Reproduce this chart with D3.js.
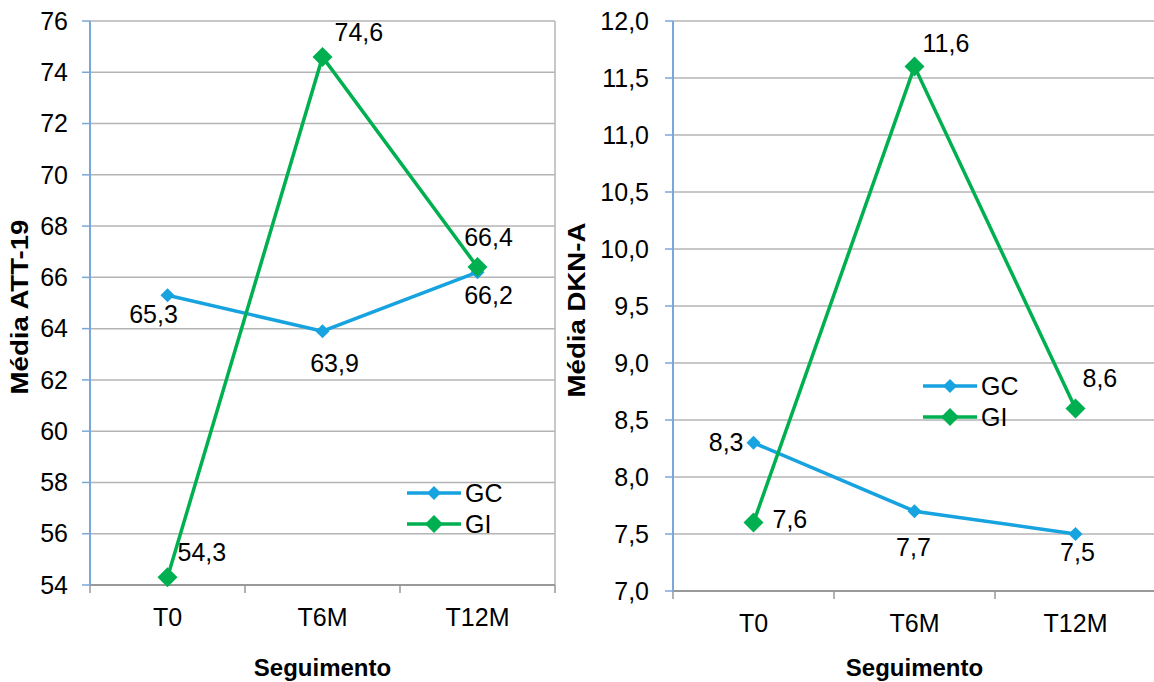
<!DOCTYPE html>
<html lang="pt">
<head>
<meta charset="UTF-8" />
<title>Média ATT-19 e DKN-A por seguimento</title>
<script src="https://d3js.org/d3.v7.min.js"></script>
<style>
  body { margin: 0; background: #fff; }
  svg text { font-family: "Liberation Sans", Arial, sans-serif; fill: #000; }
  .grid line { stroke: #b4b4b4; stroke-width: 1.5px; }
  .tick-lbl { font-size: 25px; }
  .title { font-size: 24px; font-weight: bold; }
  .dlabel { font-size: 25px; }
</style>
</head>
<body>
<svg width="1154" height="682"></svg>
<script>
// categorias e séries
const categories = ["T0", "T6M", "T12M"];
const seriesNames = ["GC", "GI"];

// gráfico 1: ATT-19
const attGC = [65.3, 63.9, 66.2];
const attGI = [54.3, 74.6, 66.4];
const attTicks = [54, 56, 58, 60, 62, 64, 66, 68, 70, 72, 74, 76];

// gráfico 2: DKN-A
const dknGC = [8.3, 7.7, 7.5];
const dknGI = [7.6, 11.6, 8.6];
const dknTicks = [7.0, 7.5, 8.0, 8.5, 9.0, 9.5, 10.0, 10.5, 11.0, 11.5, 12.0];

const colors = { GC: "#17a2e0", GI: "#00b050" };
const fmt = d3.format(".1f");
const comma = v => fmt(v).replace(".", ",");

const svg = d3.select("svg");

// posição dos rótulos de dados (anchor, dx, dy) por ponto
const attLabelPos = {
  GC: [["middle", -14, 28], ["middle", 12, 41], ["middle", 11, 32]],
  GI: [["start", 10, -16], ["start", 12, -16], ["middle", 11, -21]]
};
const dknLabelPos = {
  GC: [["end", -10, 8], ["middle", -1, 45], ["middle", 2, 27]],
  GI: [["start", 19, 5], ["start", 8, -15], ["start", 7, -22]]
};

function drawChart(opt) {
  const g = svg.append("g");
  const x = d3.scaleBand().domain(categories).range([opt.left, opt.right]);
  const y = d3.scaleLinear().domain(opt.domain).range([opt.bottom, opt.top]);

  // linhas de grade
  g.append("g").attr("class", "grid")
    .selectAll("line").data(opt.ticks.slice(1)).join("line")
    .attr("x1", opt.left).attr("x2", opt.right)
    .attr("y1", d => y(d)).attr("y2", d => y(d));

  // borda direita da área do gráfico
  g.append("line")
    .attr("x1", opt.right).attr("x2", opt.right)
    .attr("y1", opt.top).attr("y2", opt.bottom)
    .attr("stroke", "#b4b4b4").attr("stroke-width", 1.5);

  // eixo x
  const xAxis = g.append("g").attr("transform", `translate(0,${opt.bottom})`);
  xAxis.append("line")
    .attr("x1", opt.left).attr("x2", opt.right)
    .attr("stroke", "#999").attr("stroke-width", 2);
  const bounds = categories.map(c => x(c)).concat([opt.right]);
  xAxis.selectAll(".xt").data(bounds).join("line")
    .attr("class", "xt")
    .attr("x1", d => d).attr("x2", d => d)
    .attr("y1", 0).attr("y2", 8)
    .attr("stroke", "#999").attr("stroke-width", 1.5);
  xAxis.selectAll("text").data(categories).join("text")
    .attr("class", "tick-lbl")
    .attr("x", d => x(d) + x.bandwidth() / 2)
    .attr("y", opt.catY - opt.bottom)
    .attr("text-anchor", "middle")
    .text(d => d);

  // eixo y
  const yAxis = g.append("g").attr("transform", `translate(${opt.left},0)`);
  yAxis.selectAll("line").data(opt.ticks).join("line")
    .attr("x1", -8).attr("x2", 0)
    .attr("y1", d => y(d)).attr("y2", d => y(d))
    .attr("stroke", "#7aa7d8").attr("stroke-width", 1.5);
  yAxis.append("line")
    .attr("x1", 0).attr("x2", 0)
    .attr("y1", opt.top).attr("y2", opt.bottom)
    .attr("stroke", "#7aa7d8").attr("stroke-width", 2);
  yAxis.selectAll("text").data(opt.ticks).join("text")
    .attr("class", "tick-lbl")
    .attr("x", -opt.tickGap)
    .attr("y", d => y(d))
    .attr("dy", "0.35em")
    .attr("text-anchor", "end")
    .text(d => opt.tickFmt(d));

  // títulos
  g.append("text").attr("class", "title")
    .attr("x", (opt.left + opt.right) / 2).attr("y", opt.titleY)
    .attr("text-anchor", "middle").text("Seguimento");
  g.append("text").attr("class", "title")
    .attr("transform", `translate(${opt.yTitleX},${opt.yTitleY}) rotate(-90) scale(1.15,1)`)
    .attr("text-anchor", "middle").text(opt.yTitle);

  const cx = c => x(c) + x.bandwidth() / 2;
  const line = d3.line().x((d, i) => cx(categories[i])).y(d => y(d));
  const diamond = r => `M0,${-r}L${r},0L0,${r}L${-r},0Z`;

  seriesNames.forEach((name, si) => {
    const vals = opt.series[si];
    const r = name === "GI" ? 10 : 7;
    const s = g.append("g");
    s.append("path").datum(vals)
      .attr("d", line).attr("fill", "none")
      .attr("stroke", colors[name]).attr("stroke-width", 3.5);
    s.selectAll("path.mk").data(vals).join("path")
      .attr("class", "mk")
      .attr("transform", (d, i) => `translate(${cx(categories[i])},${y(d)})`)
      .attr("d", diamond(r)).attr("fill", colors[name]);
  });

  // rótulos de dados
  seriesNames.forEach((name, si) => {
    const vals = opt.series[si];
    g.append("g").selectAll("text").data(vals).join("text")
      .attr("class", "dlabel")
      .attr("x", (d, i) => cx(categories[i]) + opt.labelPos[name][i][1])
      .attr("y", (d, i) => y(d) + opt.labelPos[name][i][2])
      .attr("text-anchor", (d, i) => opt.labelPos[name][i][0])
      .text(d => comma(d));
  });

  // legenda
  const lg = g.append("g").attr("transform", `translate(${opt.legX},${opt.legY})`);
  seriesNames.forEach((name, i) => {
    const row = lg.append("g").attr("transform", `translate(0,${i * 31})`);
    row.append("line").attr("x1", 0).attr("x2", 54)
      .attr("stroke", colors[name]).attr("stroke-width", 3.5);
    row.append("path").attr("transform", "translate(27,0)")
      .attr("d", diamond(name === "GI" ? 9 : 7)).attr("fill", colors[name]);
    row.append("text").attr("class", "dlabel")
      .attr("x", 58).attr("y", 9).text(name);
  });
}

drawChart({
  left: 90, right: 555, top: 21, bottom: 585,
  domain: [54, 76], ticks: attTicks, tickFmt: d => d, tickGap: 22,
  series: [attGC, attGI], labelPos: attLabelPos,
  catY: 626, titleY: 676, yTitle: "Média ATT-19", yTitleX: 28, yTitleY: 307,
  legX: 407, legY: 493
});

drawChart({
  left: 673, right: 1156, top: 21, bottom: 591,
  domain: [7, 12], ticks: dknTicks, tickFmt: d => comma(d), tickGap: 24,
  series: [dknGC, dknGI], labelPos: dknLabelPos,
  catY: 632, titleY: 676, yTitle: "Média DKN-A", yTitleX: 585, yTitleY: 310,
  legX: 923, legY: 386
});
</script>
</body>
</html>
